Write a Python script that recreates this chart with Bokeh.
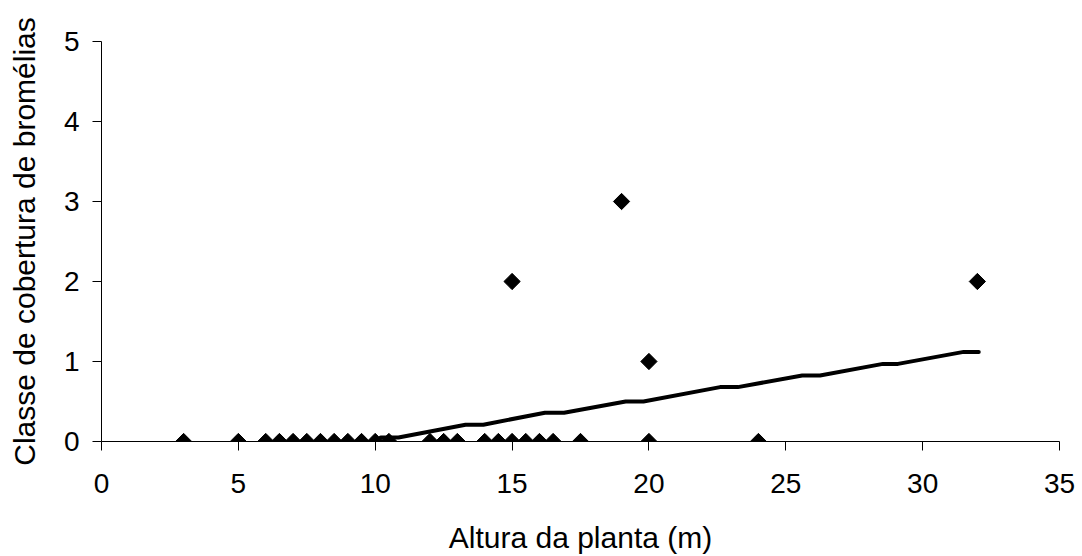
import math
from bokeh.plotting import figure
from bokeh.models import Range1d, FixedTicker, ColumnDataSource
from bokeh.embed import file_html
from bokeh.resources import INLINE

# Observed data: plant height (m) vs bromeliad cover class
altura = [3, 5, 6, 6.5, 7, 7.5, 8, 8.5, 9, 9.5, 10, 10.5,
          12, 12.5, 13, 14, 14.5, 15, 15.5, 16, 16.5, 17.5, 20, 24,
          15, 19, 20, 32]
cobertura = [0, 0, 0, 0, 0, 0, 0, 0, 0, 0, 0, 0,
             0, 0, 0, 0, 0, 0, 0, 0, 0, 0, 0, 0,
             2, 3, 1, 2]

# Fitted trend line
trend_x = [10.2, 10.85, 13.3, 13.95, 16.2, 16.9, 19.15, 19.8, 22.6, 23.25,
           25.6, 26.25, 28.55, 29.1, 31.5, 32.05]
trend_y = [0.05, 0.05, 0.21, 0.21, 0.36, 0.36, 0.50, 0.50, 0.68, 0.68,
           0.825, 0.825, 0.97, 0.97, 1.12, 1.12]

x_ticks = [0, 5, 10, 15, 20, 25, 30, 35]
y_ticks = [0, 1, 2, 3, 4, 5]

FONT = "Liberation Sans"

p = figure(width=1082, height=556, output_backend="svg", toolbar_location=None,
           x_range=Range1d(0, 35), y_range=Range1d(0, 5),
           min_border_left=101, min_border_right=23, min_border_top=41, min_border_bottom=115)
p.outline_line_color = None
p.xgrid.visible = False
p.ygrid.visible = False
p.background_fill_color = "white"
p.border_fill_color = "white"

for ax in (p.xaxis[0], p.yaxis[0]):
    ax.axis_line_color = "black"
    ax.axis_line_width = 1
    ax.major_tick_line_color = "black"
    ax.major_tick_out = 9
    ax.major_tick_in = 0
    ax.minor_tick_out = 0
    ax.minor_tick_in = 0
    ax.major_label_text_font = FONT
    ax.major_label_text_font_size = "28px"
    ax.major_label_text_color = "black"
    ax.axis_label_text_font = FONT
    ax.axis_label_text_font_size = "30px"
    ax.axis_label_text_font_style = "normal"
    ax.axis_label_text_color = "black"

p.xaxis[0].ticker = FixedTicker(ticks=x_ticks)
p.yaxis[0].ticker = FixedTicker(ticks=y_ticks)
p.xaxis[0].axis_label = "Altura da planta (m)"
p.yaxis[0].axis_label = "Classe de cobertura de bromélias"
p.xaxis[0].major_label_standoff = 23
p.xaxis[0].axis_label_standoff = 25
p.yaxis[0].major_label_standoff = 13
p.yaxis[0].axis_label_standoff = 20

p.line(trend_x, trend_y, line_color="black", line_width=4, line_cap="round", line_join="round")

src = ColumnDataSource(dict(x=altura, y=cobertura))
p.scatter("x", "y", source=src, marker="square", angle=math.pi / 4, size=11.5,
          fill_color="black", line_color="black")

open("out.html", "w").write(file_html(p, INLINE))
